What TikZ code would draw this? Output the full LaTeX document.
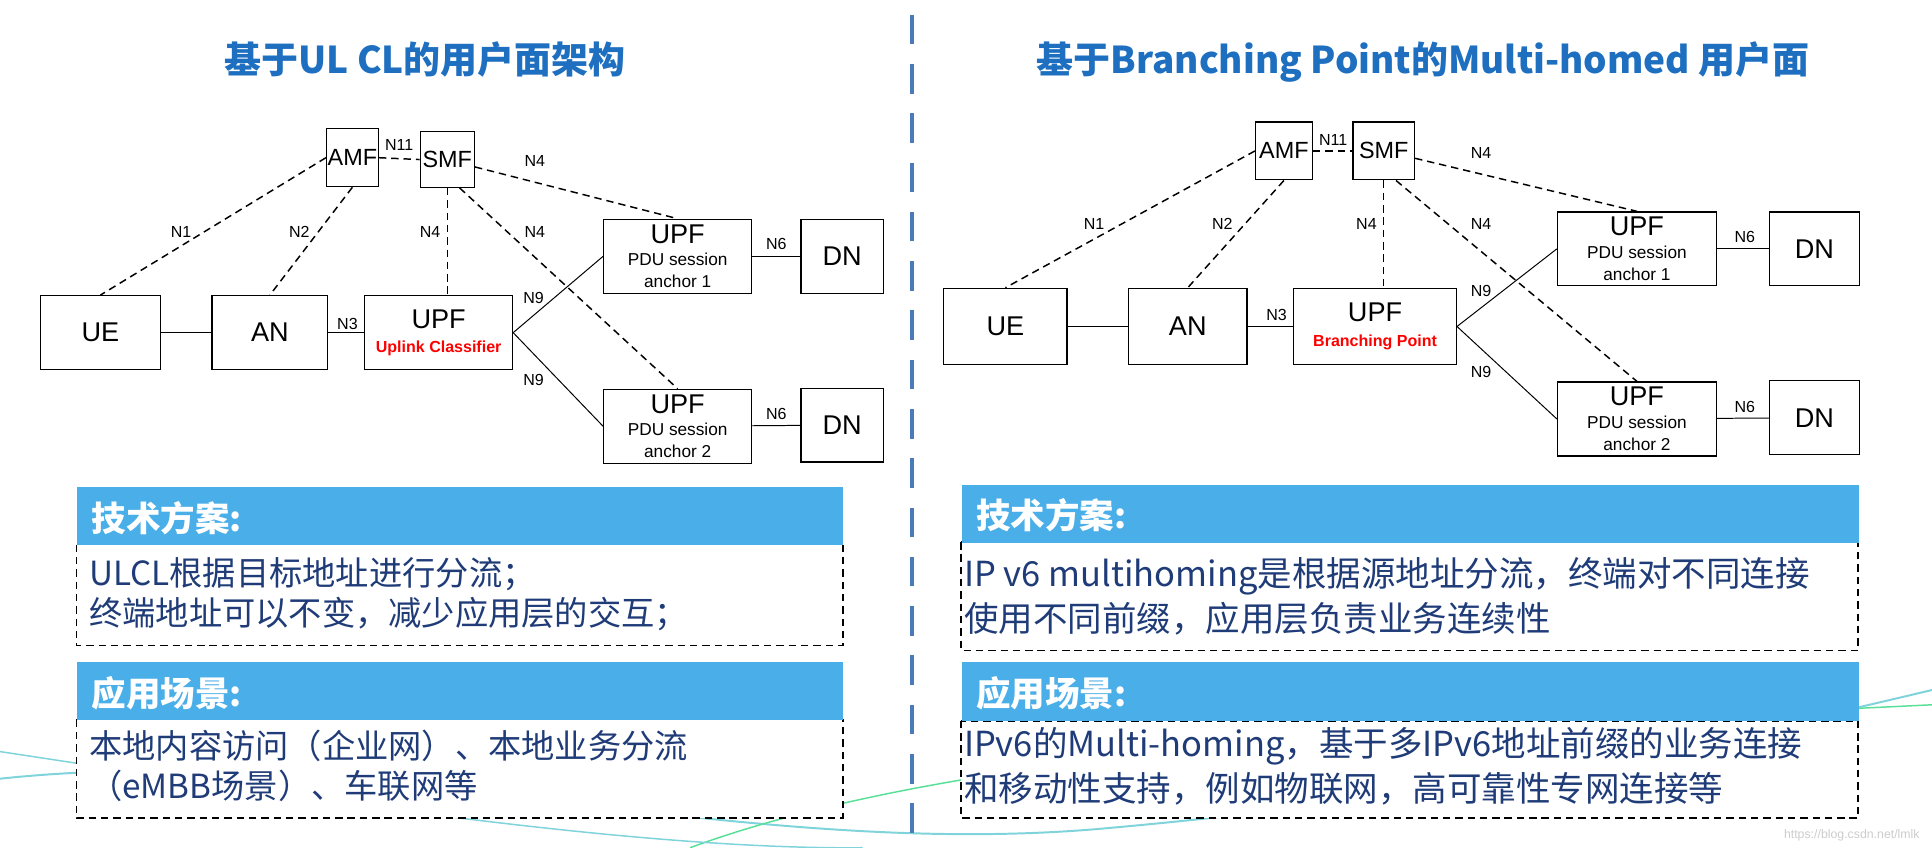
\documentclass[tikz,border=0pt]{standalone}
\usepackage{fontspec}
\setmainfont{Liberation Sans}
\newfontfamily\cjk{Noto Sans CJK SC}
\begin{document}
\begin{tikzpicture}[x=0.5pt,y=-0.5pt,
  box/.style={draw,fill=white,line width=0.5pt,inner sep=0pt,align=center,font=\fontsize{11}{12}\selectfont},
  sbox/.style={box,font=\fontsize{9.5}{10}\selectfont},
  lbl/.style={font=\fontsize{6.5}{7}\selectfont,inner sep=1pt},
  dl/.style={densely dashed,line width=0.6pt},
  sl/.style={line width=0.4pt},
  hdr/.style={fill=hdrblue,anchor=north west,inner sep=0pt,text=white,font=\cjk\bfseries\fontsize{14}{16}\selectfont,align=left,text depth=0pt},
  bodyb/.style={draw,fill=white,densely dashed,line width=0.6pt},
  bt/.style={anchor=west,text=bodyblue,font=\cjk\fontsize{13.5}{15}\selectfont,inner sep=0pt},
  ttl/.style={text=titleblue,font=\cjk\bfseries\fontsize{15}{17}\selectfont}]
\definecolor{hdrblue}{HTML}{4AAEE8}
\definecolor{bodyblue}{HTML}{1F3C78}
\definecolor{titleblue}{HTML}{1E6FC0}
\definecolor{divblue}{HTML}{4A7AB8}
\definecolor{swoosh}{HTML}{7FD3DA}
\useasboundingbox (0,0) rectangle (1568,688);
% background swooshes
\draw[swoosh,line width=0.8pt] (0,632) .. controls (300,600) and (600,700) .. (900,672) .. controls (1200,645) and (1400,600) .. (1568,560);
\draw[swoosh!70!green,line width=0.6pt] (560,688) .. controls (800,600) and (1200,590) .. (1568,572);
\draw[swoosh,line width=0.6pt] (0,610) .. controls (200,640) and (500,690) .. (700,688);
% divider
\draw[divblue,line width=1.4pt,dash pattern=on 12pt off 8pt] (740,12) -- (740,688);
% titles
\node[ttl] (t1) at (345,48) {基于UL CL的用户面架构};
\node[ttl] (t2) at (1155,50) {基于Branching Point的Multi-homed 用户面};
% ===== left diagram
\node[sbox,minimum width=21pt,minimum height=23.5pt] (amf) at (286,128) {AMF};
\node[sbox,minimum width=22pt,minimum height=22.5pt] (smf) at (363,129.5) {SMF};
\node[box,minimum width=48.5pt,minimum height=30pt] (ue) at (81.5,270) {UE};
\node[box,minimum width=47pt,minimum height=30pt] (an) at (219,270) {AN};
\node[box,minimum width=60pt,minimum height=30pt] (upf) at (356,270) {UPF\\[-2pt]{\fontsize{6.5}{7}\selectfont\bfseries\color{red}Uplink Classifier}};
\node[box,minimum width=60pt,minimum height=30pt] (a1) at (550,208) {UPF\\[-3pt]{\fontsize{7}{8}\selectfont PDU session}\\[-3pt]{\fontsize{7}{8}\selectfont anchor 1}};
\node[box,minimum width=33.5pt,minimum height=30pt] (dn1) at (683.5,208) {DN};
\node[box,minimum width=60pt,minimum height=30pt] (a2) at (550,346) {UPF\\[-3pt]{\fontsize{7}{8}\selectfont PDU session}\\[-3pt]{\fontsize{7}{8}\selectfont anchor 2}};
\node[box,minimum width=33.5pt,minimum height=30pt] (dn2) at (683.5,345) {DN};
\draw[dl] (amf.east) -- (smf.west);
\draw[dl] (amf.west) -- (ue.north);
\draw[dl] (amf.south) -- (an.north);
\draw[dl] (smf.south) -- (upf.north -| smf.south);
\draw[dl] ([xshift=5]smf.south) -- (a2.north);
\draw[dl] ([yshift=-3]smf.east) -- (a1.north);
\draw[sl] (ue) -- (an); \draw[sl] (an) -- (upf);
\draw[sl] (upf.east) -- (a1.west); \draw[sl] (upf.east) -- (a2.west);
\draw[sl] (a1) -- (dn1); \draw[sl] (a2) -- (dn2);
\node[lbl] (l1) at (324,118) {N11};
\node[lbl] (l2) at (147,188) {N1};
\node[lbl] (l3) at (243,188) {N2};
\node[lbl] (l4) at (349,188) {N4};
\node[lbl] (l5) at (434,188) {N4};
\node[lbl] (l6) at (434,131) {N4};
\node[lbl] (l7) at (282,263) {N3};
\node[lbl] (l8) at (433,242) {N9};
\node[lbl] (l9) at (433,308) {N9};
\node[lbl] (l10) at (630,198) {N6};
\node[lbl] (l11) at (630,336) {N6};
% ===== right diagram
\node[sbox,minimum width=23pt,minimum height=23.5pt] (ramf) at (1042,122.5) {AMF};
\node[sbox,minimum width=25pt,minimum height=23.5pt] (rsmf) at (1123,122.5) {SMF};
\node[box,minimum width=50pt,minimum height=31pt] (rue) at (816,265) {UE};
\node[box,minimum width=48pt,minimum height=31pt] (ran) at (964,265) {AN};
\node[box,minimum width=66pt,minimum height=31pt] (rupf) at (1116,265) {UPF\\[-2pt]{\fontsize{6.5}{7}\selectfont\bfseries\color{red}Branching Point}};
\node[box,minimum width=64.5pt,minimum height=30pt] (ra1) at (1328.5,202) {UPF\\[-3pt]{\fontsize{7}{8}\selectfont PDU session}\\[-3pt]{\fontsize{7}{8}\selectfont anchor 1}};
\node[box,minimum width=36.5pt,minimum height=30pt] (rdn1) at (1472.5,202) {DN};
\node[box,minimum width=64.5pt,minimum height=30pt] (ra2) at (1328.5,340) {UPF\\[-3pt]{\fontsize{7}{8}\selectfont PDU session}\\[-3pt]{\fontsize{7}{8}\selectfont anchor 2}};
\node[box,minimum width=36.5pt,minimum height=30pt] (rdn2) at (1472.5,339) {DN};
\draw[dl] (ramf.east) -- (rsmf.west);
\draw[dl] (ramf.west) -- (rue.north);
\draw[dl] (ramf.south) -- (ran.north);
\draw[dl] (rsmf.south) -- (rupf.north -| rsmf.south);
\draw[dl] ([xshift=5]rsmf.south) -- (ra2.north);
\draw[dl] ([yshift=-3]rsmf.east) -- (ra1.north);
\draw[sl] (rue) -- (ran); \draw[sl] (ran) -- (rupf);
\draw[sl] (rupf.east) -- (ra1.west); \draw[sl] (rupf.east) -- (ra2.west);
\draw[sl] (ra1) -- (rdn1); \draw[sl] (ra2) -- (rdn2);
\node[lbl] (r1) at (1082,114) {N11};
\node[lbl] (r2) at (888,182) {N1};
\node[lbl] (r3) at (992,182) {N2};
\node[lbl] (r4) at (1109,182) {N4};
\node[lbl] (r5) at (1202,182) {N4};
\node[lbl] (r6) at (1202,124) {N4};
\node[lbl] (r7) at (1036,256) {N3};
\node[lbl] (r8) at (1202,236) {N9};
\node[lbl] (r9) at (1202,302) {N9};
\node[lbl] (r10) at (1416,192) {N6};
\node[lbl] (r11) at (1416,330) {N6};
% ===== text panels left
\draw[bodyb] (62,442) rectangle (684,524);
\node[hdr,minimum width=311pt,minimum height=23.5pt,text width=305pt] (h1) at (62,395) {\hspace{3pt}技术方案:};
\node[bt] (b1) at (72,466) {ULCL根据目标地址进行分流；};
\node[bt] (b2) at (72,498) {终端地址可以不变，减少应用层的交互；};
\draw[bodyb] (62,584) rectangle (684,664);
\node[hdr,minimum width=311pt,minimum height=23.5pt,text width=305pt] (h2) at (62,537) {\hspace{3pt}应用场景:};
\node[bt] (b3) at (72,605) {本地内容访问（企业网）、本地业务分流};
\node[bt] (b4) at (72,638) {（eMBB场景）、车联网等};
% right panels
\draw[bodyb] (780,440) rectangle (1508,528);
\node[hdr,minimum width=364pt,minimum height=23.5pt,text width=358pt] (h3) at (780,393) {\hspace{3pt}技术方案:};
\node[bt,font=\cjk\fontsize{14}{15}\selectfont] (b5) at (782,468) {IP v6 multihoming是根据源地址分流，终端对不同连接};
\node[bt,font=\cjk\fontsize{14}{15}\selectfont] (b6) at (782,502) {使用不同前缀，应用层负责业务连续性};
\draw[bodyb] (780,585) rectangle (1508,664);
\node[hdr,minimum width=364pt,minimum height=24pt,text width=358pt] (h4) at (780,537) {\hspace{3pt}应用场景:};
\node[bt,font=\cjk\fontsize{14}{15}\selectfont] (b7) at (782,606) {IPv6的Multi-homing，基于多IPv6地址前缀的业务连接};
\node[bt,font=\cjk\fontsize{14}{15}\selectfont] (b8) at (782,640) {和移动性支持，例如物联网，高可靠性专网连接等};
\node[text=gray!40,font=\fontsize{5}{6}\selectfont,anchor=east] (wm) at (1565,678) {https://blog.csdn.net/lmlk};
\end{tikzpicture}
\end{document}
